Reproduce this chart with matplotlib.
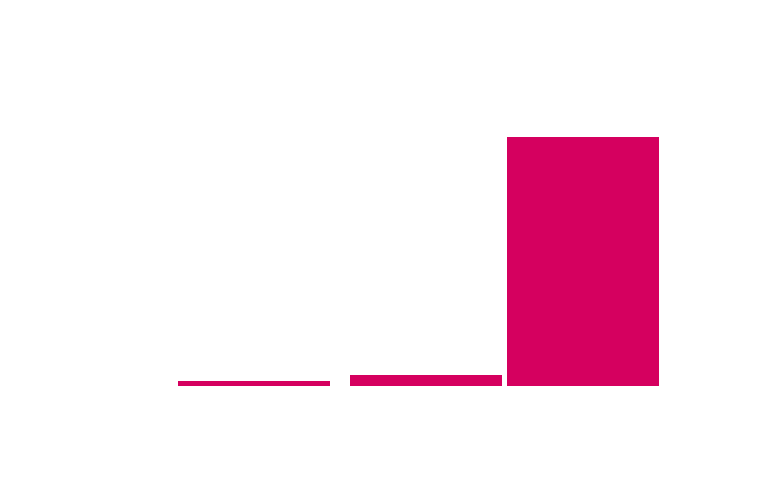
import numpy as np
import matplotlib
matplotlib.use('Agg')
import matplotlib.pyplot as plt

# bar positions (data units) and values
positions = [1.0, 2.12, 3.145]
values = [2.3, 4.7, 100.0]
bar_width = 0.99
bar_color = '#d5005f'

fig = plt.figure(figsize=(7.75, 4.81), dpi=100)
ax = fig.add_axes([0.2293, 0.1945, 0.621, 0.5195])

ax.bar(positions, values, width=bar_width, color=bar_color, linewidth=0)

ax.set_xlim(positions[0] - bar_width / 2, positions[-1] + bar_width / 2)
ax.set_ylim(0, max(values))
ax.axis('off')

plt.savefig('out.png', dpi=100, facecolor='white')
